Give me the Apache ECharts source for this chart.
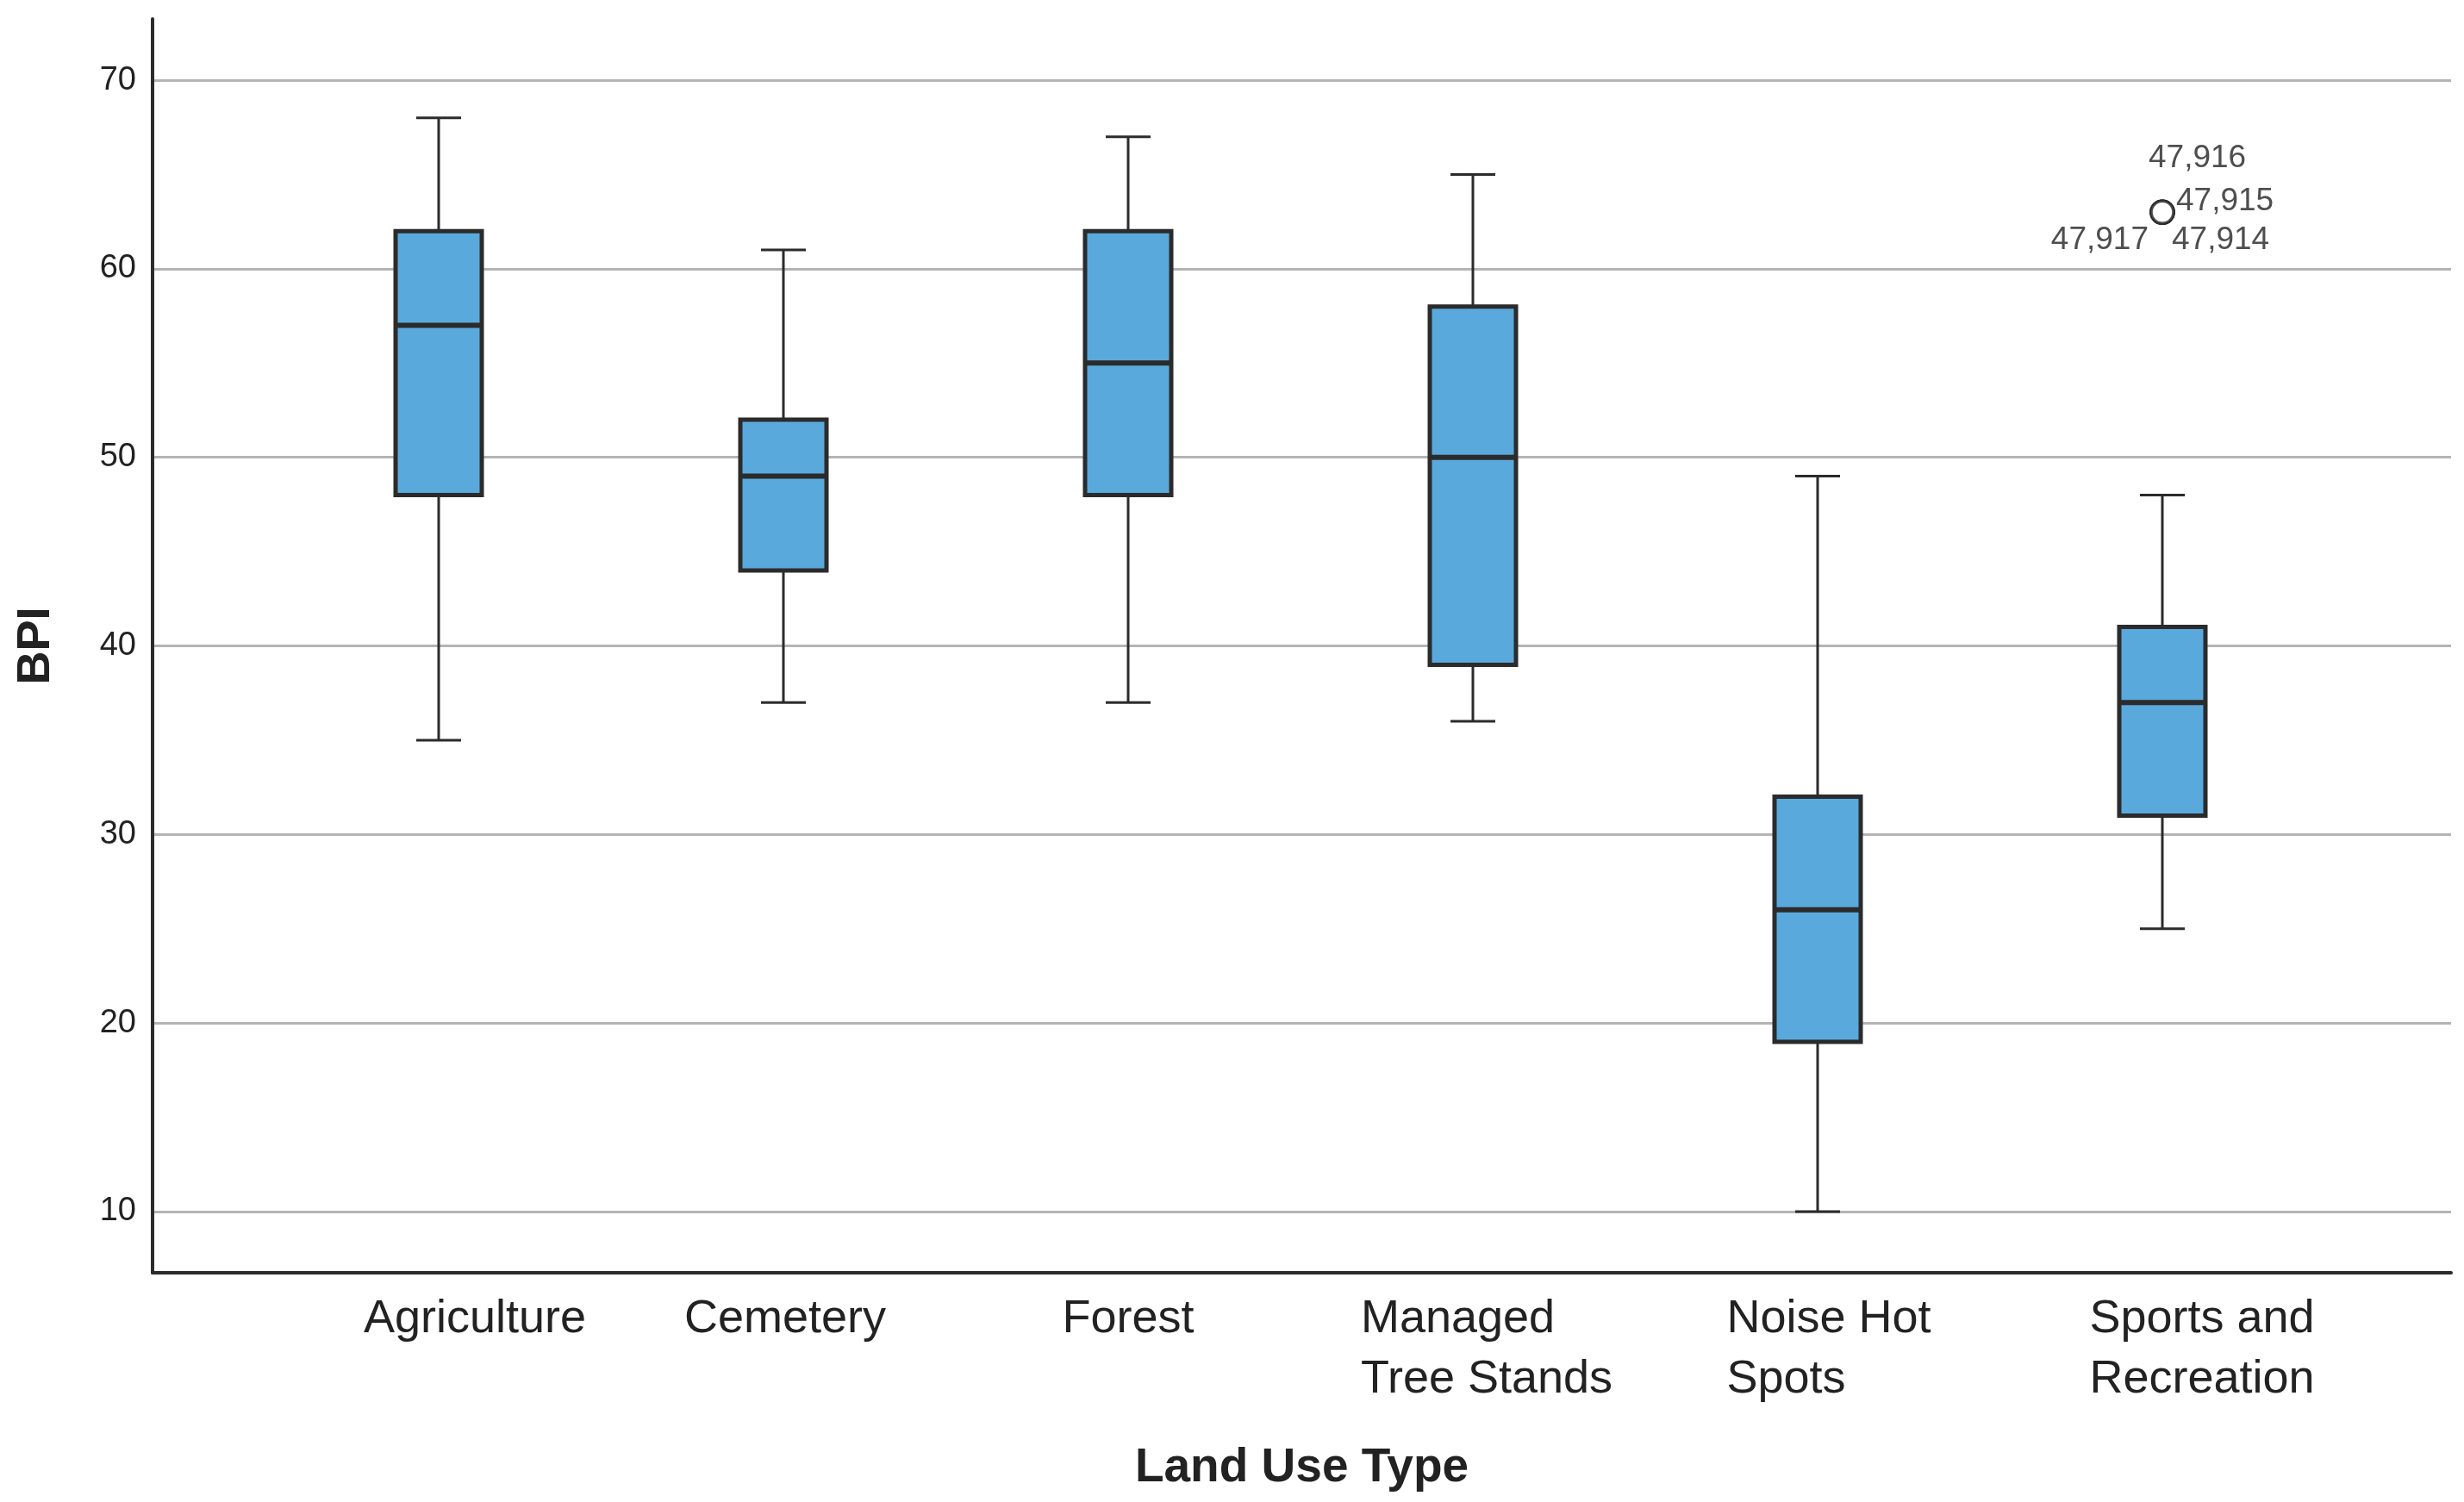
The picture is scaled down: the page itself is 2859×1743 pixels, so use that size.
<!DOCTYPE html>
<html>
<head>
<meta charset="utf-8">
<script src="https://cdn.jsdelivr.net/npm/echarts@6/dist/echarts.min.js"></script>
<style>
html,body{margin:0;padding:0;background:#fff;}
#chart{width:2859px;height:1743px;}
</style>
</head>
<body>
<div id="chart"></div>
<script>
// ---- data ----
const categories = ['Agriculture', 'Cemetery', 'Forest', 'Managed\nTree Stands', 'Noise Hot\nSpots', 'Sports and\nRecreation'];
const whiskerLow = [35, 37, 37, 36, 10, 25];
const quartile1  = [48, 44, 48, 39, 19, 31];
const medians    = [57, 49, 55, 50, 26, 37];
const quartile3  = [62, 52, 62, 58, 32, 41];
const whiskerHigh= [68, 61, 67, 65, 49, 48];
const outlierCategory = 5;
const outlierValues = [63, 63, 63, 63];
const outlierIds = ['47,916', '47,915', '47,917', '47,914'];
const yTicks = [10, 20, 30, 40, 50, 60, 70];
const yMin = 6.75, yMax = 73.25;

// ---- styles ----
const dark = '#2b2b2b';
const boxFill = '#5aa9dc';
const font = '"Liberation Sans", Arial, sans-serif';
const labelShift = [84, 4, 0, 32, 26, 92];
const outlierLabelLayout = [
  {align: 'left',  dx: -16, dy: -62},
  {align: 'left',  dx: 16,  dy: -12},
  {align: 'right', dx: -16, dy: 33},
  {align: 'left',  dx: 11,  dy: 33}
];

const boxData = categories.map((c, i) => [i, whiskerLow[i], quartile1[i], medians[i], quartile3[i], whiskerHigh[i]]);

const rich = {};
labelShift.forEach((p, i) => {
  rich['c' + i] = {fontSize: 54, fontFamily: font, color: '#222', lineHeight: 70, align: 'left', padding: [0, 0, 0, p]};
});

function renderBox(params, api) {
  const x = api.value(0);
  const lo = api.coord([x, api.value(1)]);
  const q1 = api.coord([x, api.value(2)]);
  const md = api.coord([x, api.value(3)]);
  const q3 = api.coord([x, api.value(4)]);
  const hi = api.coord([x, api.value(5)]);
  const band = api.size([1, 0])[0];
  const bw = band * 0.25, cw = band * 0.13;
  const cx = md[0];
  const ws = {stroke: dark, lineWidth: 3};
  return {
    type: 'group',
    children: [
      {type: 'line', shape: {x1: cx, y1: hi[1], x2: cx, y2: q3[1]}, style: ws},
      {type: 'line', shape: {x1: cx, y1: q1[1], x2: cx, y2: lo[1]}, style: ws},
      {type: 'line', shape: {x1: cx - cw / 2, y1: hi[1], x2: cx + cw / 2, y2: hi[1]}, style: ws},
      {type: 'line', shape: {x1: cx - cw / 2, y1: lo[1], x2: cx + cw / 2, y2: lo[1]}, style: ws},
      {type: 'rect', shape: {x: cx - bw / 2, y: q3[1], width: bw, height: q1[1] - q3[1]},
        style: {fill: boxFill, stroke: dark, lineWidth: 5}},
      {type: 'line', shape: {x1: cx - bw / 2, y1: md[1], x2: cx + bw / 2, y2: md[1]},
        style: {stroke: dark, lineWidth: 6}}
    ]
  };
}

const chart = echarts.init(document.getElementById('chart'), null, {renderer: 'canvas'});
chart.setOption({
  animation: false,
  backgroundColor: '#fff',
  grid: [
    {left: 177, right: 15, top: 22, bottom: 266},
    {left: 309, right: 150, top: 22, bottom: 266}
  ],
  xAxis: [
    {
      gridIndex: 0, type: 'value', min: 0, max: 1,
      axisLine: {show: true, lineStyle: {color: dark, width: 4}},
      axisTick: {show: false}, axisLabel: {show: false}, splitLine: {show: false},
      name: 'Land Use Type', nameLocation: 'middle', nameGap: 199,
      nameTextStyle: {fontSize: 55, fontWeight: 'bold', fontFamily: font, color: '#222'}
    },
    {
      gridIndex: 1, type: 'category', data: categories,
      axisLine: {show: false}, axisTick: {show: false}, splitLine: {show: false},
      axisLabel: {
        margin: 19, interval: 0,
        formatter: (v, i) => v.split('\n').map(s => '{c' + i + '|' + s + '}').join('\n'),
        rich: rich
      }
    }
  ],
  yAxis: [
    {
      gridIndex: 0, type: 'value', min: yMin, max: yMax,
      axisLine: {show: true, lineStyle: {color: dark, width: 4}},
      axisTick: {show: false, customValues: yTicks},
      axisLabel: {customValues: yTicks, fontSize: 38, fontFamily: font, color: '#222', margin: 19, padding: [10, 0, 0, 0]},
      splitLine: {show: true, lineStyle: {color: '#b4b4b4', width: 3}},
      name: 'BPI', nameLocation: 'middle', nameGap: 108, nameRotate: 90,
      nameTextStyle: {fontSize: 54, fontWeight: 'bold', fontFamily: font, color: '#222'}
    },
    {
      gridIndex: 1, type: 'value', min: yMin, max: yMax, show: false,
      splitLine: {show: false}
    }
  ],
  series: [
    {
      type: 'custom', xAxisIndex: 1, yAxisIndex: 1,
      renderItem: renderBox,
      encode: {x: 0, y: [1, 2, 3, 4, 5]},
      data: boxData, z: 3
    },
    {
      type: 'scatter', xAxisIndex: 1, yAxisIndex: 1, z: 4,
      data: outlierValues.map((v, i) => ({
        value: [outlierCategory, v],
        name: outlierIds[i],
        label: {
          show: true, position: 'inside', formatter: outlierIds[i],
          align: outlierLabelLayout[i].align, verticalAlign: 'middle',
          fontSize: 37, fontFamily: font, color: '#222'
        }
      })),
      symbol: 'circle',
      symbolSize: 26,
      itemStyle: {color: '#fff', borderColor: dark, borderWidth: 3.5},
      labelLayout: (p) => ({
        dx: outlierLabelLayout[p.dataIndex].dx,
        dy: outlierLabelLayout[p.dataIndex].dy,
        align: outlierLabelLayout[p.dataIndex].align,
        verticalAlign: 'middle',
        hideOverlap: false
      }),
      emphasis: {disabled: true}
    }
  ]
});
</script>
</body>
</html>
